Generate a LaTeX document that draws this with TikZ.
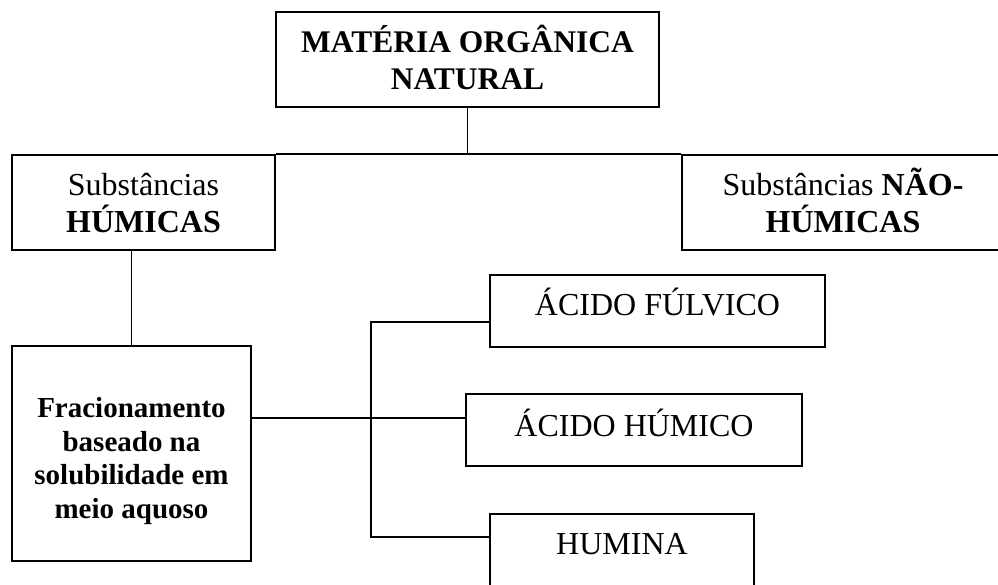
\documentclass[tikz,border=0pt]{standalone}
\usepackage{fontspec}
\setmainfont{Liberation Serif}
\tikzset{
  caixa/.style={draw=black, line width=1.6pt, inner sep=0pt, anchor=base, align=center,
    font=\fontsize{32}{36.5}\selectfont},
  liga/.style={line width=1.6pt}
}
\begin{document}
\begin{tikzpicture}[x=1pt,y=-1pt]
  \useasboundingbox (0,0) rectangle (998,584);
  \node[caixa, minimum width=383pt, text height=77pt, text depth=18pt, font=\fontsize{31.5}{36.5}\selectfont\bfseries] (mon) at (467.5,89) {MATÉRIA ORGÂNICA\\NATURAL};
  \node[caixa, minimum width=263pt, text height=77pt, text depth=18pt] (hum) at (143.5,232) {Substâncias\\\textbf{HÚMICAS}};
  \node[caixa, minimum width=322pt, text height=77pt, text depth=18pt] (nhum) at (843,232) {Substâncias \textbf{NÃO-}\\\textbf{HÚMICAS}};
  \node[caixa, minimum width=239pt, text height=172pt, text depth=43pt, font=\fontsize{29}{33.5}\selectfont\bfseries] (frac) at (131.5,518) {Fracionamento\\baseado na\\solubilidade em\\meio aquoso};
  \node[caixa, minimum width=335pt, text height=40pt, text depth=32pt] (fulv) at (657.5,315) {ÁCIDO FÚLVICO};
  \node[caixa, minimum width=336pt, text height=42pt, text depth=30pt] (humi) at (634,436) {ÁCIDO HÚMICO};
  \node[caixa, minimum width=264pt, text height=40pt, text depth=46pt] (humina) at (622,554) {HUMINA};
  % ligacoes
  \coordinate (garfo) at (371,418);
  \coordinate (garfo-a) at (371,322);
  \coordinate (garfo-b) at (371,537);
  \draw[liga] (mon.south) -- (mon.south |- hum.north);
  \draw[liga] (hum.north east) -- (nhum.north west);
  \draw[liga] (frac.north) -- (frac.north |- hum.south);
  \draw[liga] (frac.east |- garfo) -- (humi.west |- garfo);
  \draw[liga] (fulv.west |- garfo-a) -- (garfo-a) -- (garfo-b) -- (humina.west |- garfo-b);
\end{tikzpicture}
\end{document}
